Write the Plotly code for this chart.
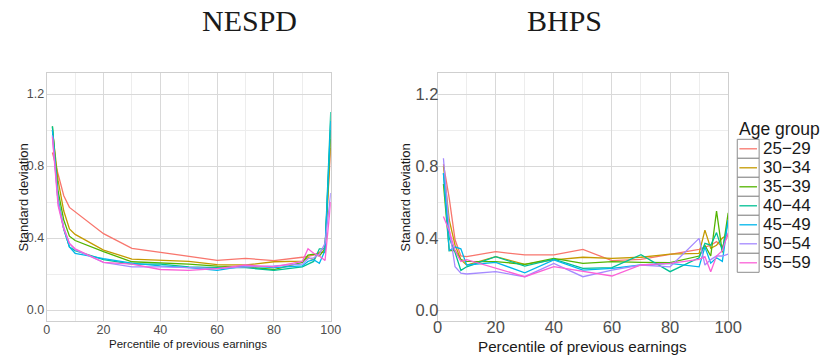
import plotly.graph_objects as go

W, H = 835, 358

X = [2, 4, 6, 8, 10, 20, 30, 40, 50, 60, 70, 80, 90, 92, 94, 96, 98, 100]
groups = ["25\u221229", "30\u221234", "35\u221239", "40\u221244", "45\u221249", "50\u221254", "55\u221259"]
colors = ["#F8766D", "#C49A00", "#53B400", "#00C094", "#00B6EB", "#A58AFF", "#FB61D7"]

nespd_25_29 = [0.875, 0.75, 0.635, 0.57, 0.545, 0.424, 0.343, 0.320, 0.300, 0.276, 0.287, 0.274, 0.293, 0.300, 0.305, 0.320, 0.350, 0.90]
nespd_30_34 = [1.00, 0.72, 0.55, 0.45, 0.420, 0.333, 0.283, 0.278, 0.270, 0.252, 0.250, 0.268, 0.272, 0.290, 0.280, 0.320, 0.320, 0.95]
nespd_35_39 = [1.02, 0.66, 0.50, 0.41, 0.386, 0.324, 0.268, 0.263, 0.255, 0.244, 0.240, 0.225, 0.265, 0.305, 0.310, 0.300, 0.340, 1.00]
nespd_40_44 = [1.02, 0.62, 0.45, 0.35, 0.330, 0.280, 0.255, 0.255, 0.240, 0.235, 0.235, 0.220, 0.240, 0.255, 0.270, 0.340, 0.340, 1.10]
nespd_45_49 = [1.00, 0.60, 0.45, 0.35, 0.315, 0.285, 0.260, 0.245, 0.235, 0.220, 0.245, 0.235, 0.245, 0.270, 0.280, 0.260, 0.330, 1.05]
nespd_50_54 = [0.97, 0.60, 0.46, 0.37, 0.335, 0.265, 0.240, 0.240, 0.235, 0.230, 0.240, 0.245, 0.255, 0.285, 0.290, 0.310, 0.370, 0.65]
nespd_55_59 = [0.96, 0.58, 0.45, 0.37, 0.340, 0.265, 0.255, 0.225, 0.220, 0.230, 0.250, 0.240, 0.270, 0.340, 0.315, 0.300, 0.275, 0.60]

bhps_25_29 = [0.81, 0.62, 0.39, 0.30, 0.297, 0.324, 0.306, 0.306, 0.337, 0.274, 0.281, 0.310, 0.337, 0.350, 0.360, 0.380, 0.350, 0.42]
bhps_30_34 = [0.80, 0.50, 0.36, 0.28, 0.250, 0.296, 0.254, 0.278, 0.293, 0.287, 0.293, 0.310, 0.315, 0.444, 0.343, 0.360, 0.400, 0.42]
bhps_35_39 = [0.70, 0.33, 0.33, 0.28, 0.270, 0.269, 0.254, 0.287, 0.259, 0.269, 0.265, 0.263, 0.300, 0.360, 0.300, 0.550, 0.320, 0.54]
bhps_40_44 = [0.76, 0.40, 0.32, 0.22, 0.240, 0.296, 0.244, 0.283, 0.231, 0.235, 0.307, 0.213, 0.290, 0.370, 0.360, 0.430, 0.330, 0.50]
bhps_45_49 = [0.76, 0.33, 0.35, 0.34, 0.250, 0.265, 0.207, 0.278, 0.222, 0.231, 0.250, 0.259, 0.240, 0.350, 0.260, 0.290, 0.270, 0.50]
bhps_50_54 = [0.843, 0.45, 0.24, 0.205, 0.200, 0.213, 0.185, 0.259, 0.185, 0.222, 0.250, 0.240, 0.398, 0.250, 0.280, 0.300, 0.300, 0.31]
bhps_55_59 = [0.52, 0.44, 0.33, 0.27, 0.280, 0.231, 0.185, 0.241, 0.213, 0.189, 0.250, 0.259, 0.281, 0.296, 0.213, 0.300, 0.330, 0.43]

nespd = [nespd_25_29, nespd_30_34, nespd_35_39, nespd_40_44, nespd_45_49, nespd_50_54, nespd_55_59]
bhps = [bhps_25_29, bhps_30_34, bhps_35_39, bhps_40_44, bhps_45_49, bhps_50_54, bhps_55_59]

fig = go.Figure()
for ys, name, c in zip(nespd, groups, colors):
    fig.add_trace(go.Scatter(x=X, y=ys, mode="lines", name=name, line=dict(color=c, width=1.3),
                             xaxis="x", yaxis="y", showlegend=False))
for ys, name, c in zip(bhps, groups, colors):
    fig.add_trace(go.Scatter(x=X, y=ys, mode="lines", name=name, line=dict(color=c, width=1.3),
                             xaxis="x2", yaxis="y2", showlegend=False))

def px(x):
    return x / W

def py(y):
    return 1 - y / H

yrange = [-0.0594, 1.315]
grid_major = "#d9d9d9"
grid_minor = "#ededed"
border = "#cfcfcf"

def xax(domain, fs, anchor, standoff):
    return dict(domain=domain, range=[0, 100], dtick=20, tick0=0, anchor=anchor,
                showgrid=True, gridcolor=grid_major, gridwidth=1.1, zeroline=False,
                minor=dict(dtick=10, tick0=0, showgrid=True, gridcolor=grid_minor, gridwidth=0.7),
                showline=True, mirror=True, linecolor=border, linewidth=1,
                ticks="", ticklabelstandoff=standoff,
                tickfont=dict(family="Liberation Sans", size=fs, color="#4d4d4d"))

def yax(domain, fs, anchor, standoff):
    return dict(domain=domain, range=yrange, dtick=0.4, tick0=0, tickformat=".1f", anchor=anchor,
                showgrid=True, gridcolor=grid_major, gridwidth=1.1, zeroline=False,
                minor=dict(dtick=0.2, tick0=0, showgrid=True, gridcolor=grid_minor, gridwidth=0.7),
                showline=True, mirror=True, linecolor=border, linewidth=1,
                ticks="", ticklabelstandoff=standoff,
                tickfont=dict(family="Liberation Sans", size=fs, color="#4d4d4d"))

fig.update_layout(
    width=W, height=H, margin=dict(l=0, r=0, t=0, b=0),
    paper_bgcolor="white", plot_bgcolor="white",
    xaxis=xax([px(42.7), px(333.3)], 12.5, "y", -3),
    yaxis=yax([py(320.7), py(73.3)], 12.5, "x", -1),
    xaxis2=xax([px(442.7), px(740)], 16.5, "y2", -9),
    yaxis2=yax([py(320.7), py(73.3)], 16.5, "x2", -5),
)

ann = []
ann.append(dict(text="NESPD", x=px(250), y=py(21), xref="paper", yref="paper", showarrow=False,
                xanchor="center", yanchor="middle", font=dict(family="Liberation Serif", size=30, color="#1a1a1a")))
ann.append(dict(text="BHPS", x=px(573), y=py(21), xref="paper", yref="paper", showarrow=False,
                xanchor="center", yanchor="middle", font=dict(family="Liberation Serif", size=30, color="#1a1a1a")))
ann.append(dict(text="Standard deviation", x=px(18), y=py(198), xref="paper", yref="paper", showarrow=False,
                textangle=-90, xanchor="center", yanchor="middle", font=dict(family="Liberation Sans", size=13, color="#1a1a1a")))
ann.append(dict(text="Standard deviation", x=px(409), y=py(198), xref="paper", yref="paper", showarrow=False,
                textangle=-90, xanchor="center", yanchor="middle", font=dict(family="Liberation Sans", size=13, color="#1a1a1a")))
ann.append(dict(text="Percentile of previous earnings", x=px(187.5), y=py(344), xref="paper", yref="paper", showarrow=False,
                xanchor="center", yanchor="middle", font=dict(family="Liberation Sans", size=11.5, color="#1a1a1a")))
ann.append(dict(text="Percentile of previous earnings", x=px(591), y=py(346), xref="paper", yref="paper", showarrow=False,
                xanchor="center", yanchor="middle", font=dict(family="Liberation Sans", size=15.2, color="#1a1a1a")))

# legend (drawn manually)
ann.append(dict(text="Age group", x=px(749), y=py(128.5), xref="paper", yref="paper", showarrow=False,
                xanchor="left", yanchor="middle", font=dict(family="Liberation Sans", size=17.5, color="#1a1a1a")))
shapes = []
row_h = 19.0
top = 139.3
for i, (name, c) in enumerate(zip(groups, colors)):
    y0 = top + i * row_h
    y1 = y0 + row_h
    shapes.append(dict(type="rect", xref="paper", yref="paper", x0=px(749.3), x1=px(771.7), y0=py(y1), y1=py(y0),
                       line=dict(color="#8c8c8c", width=1), fillcolor="white", layer="above"))
    yc = (y0 + y1) / 2
    shapes.append(dict(type="line", xref="paper", yref="paper", x0=px(751.5), x1=px(769.5), y0=py(yc), y1=py(yc),
                       line=dict(color=c, width=1.3), layer="above"))
    ann.append(dict(text=name, x=px(773.5), y=py(yc), xref="paper", yref="paper", showarrow=False,
                    xanchor="left", yanchor="middle", font=dict(family="Liberation Sans", size=17, color="#1a1a1a")))

fig.update_layout(annotations=ann, shapes=shapes)
fig.write_html("out.html")
